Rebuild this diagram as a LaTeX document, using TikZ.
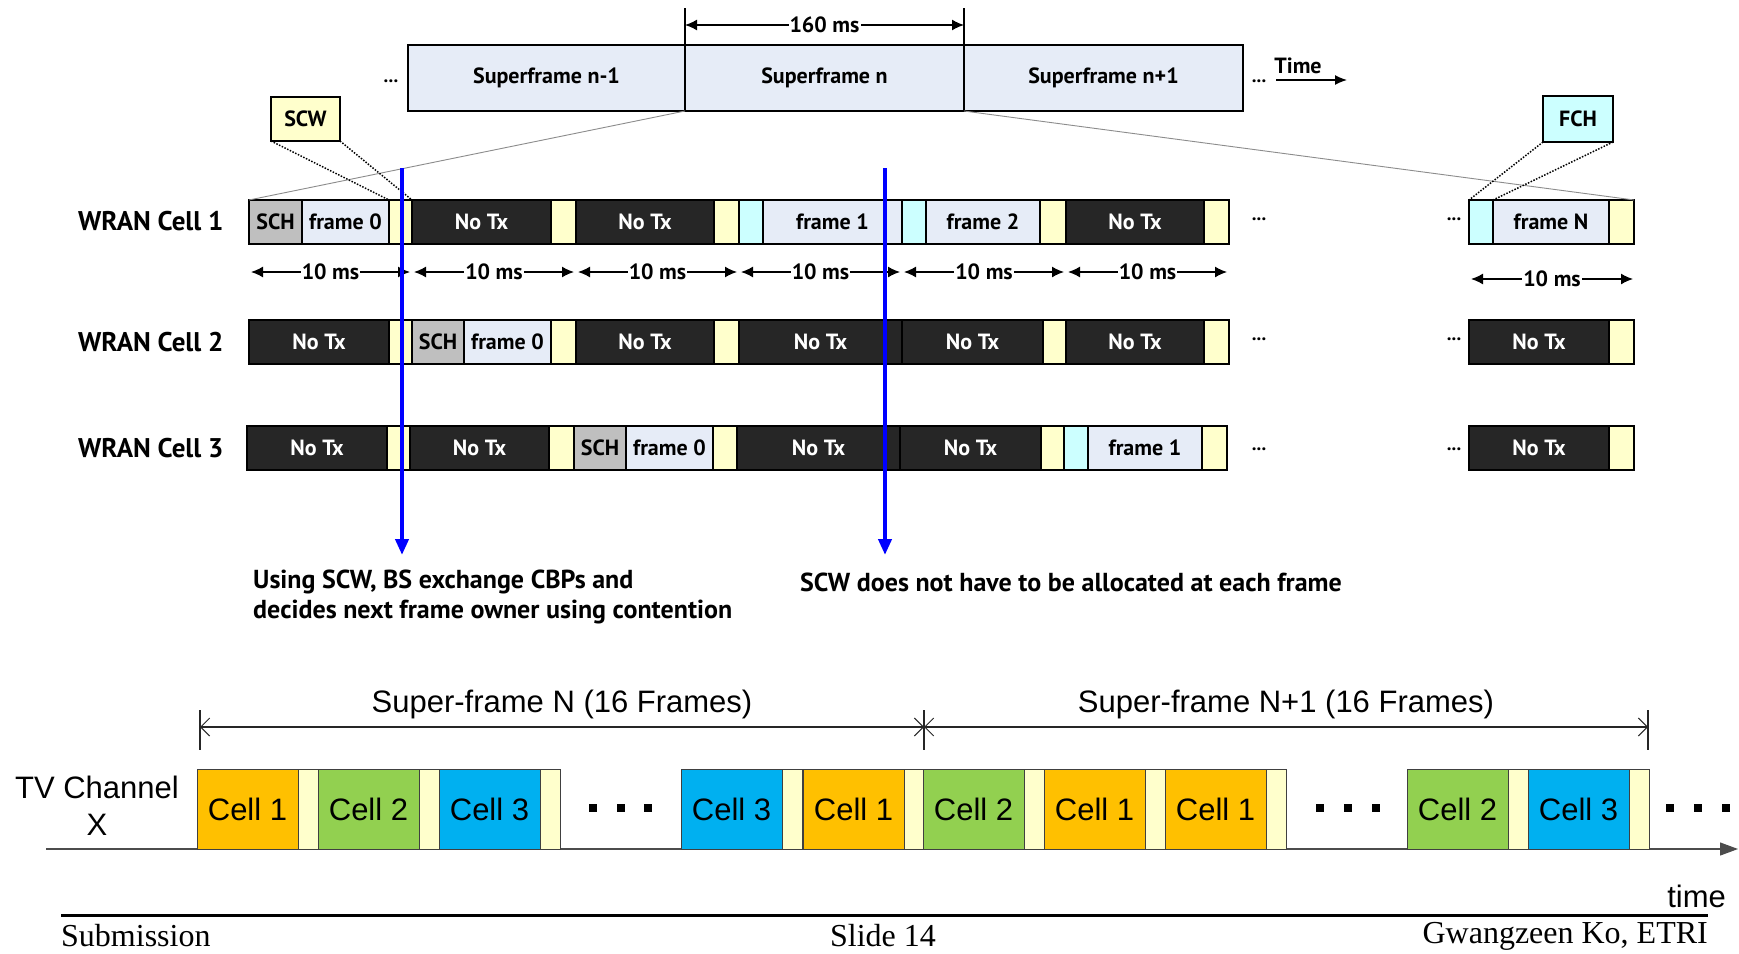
\documentclass[tikz,border=0pt]{standalone}
\usepackage{fontspec}
\setmainfont{Liberation Serif}
\newfontfamily\kf{PT Sans}
\newfontfamily\af{Liberation Sans}
\usetikzlibrary{arrows.meta}
\definecolor{frm}{HTML}{E6ECF7}
\definecolor{schc}{HTML}{BFBFBF}
\definecolor{ylw}{HTML}{FFFFCC}
\definecolor{cyn}{HTML}{CCFFFF}
\definecolor{ntx}{HTML}{262626}
\definecolor{cA}{HTML}{FFC000}
\definecolor{cB}{HTML}{92D050}
\definecolor{cC}{HTML}{00B0F0}
\newcommand\sg[7]{\node[#6,anchor=north west,minimum width={#3-#2},minimum height={#5-#4}] (#1) at (#2,#4) {#7};}
\tikzset{
 sgb/.style={draw=black,line width=1.6pt,inner sep=0pt,outer sep=0pt,font=\kf\bfseries\fontsize{22}{24}\selectfont},
 schs/.style={sgb,fill=schc},
 frms/.style={sgb,fill=frm},
 ylws/.style={sgb,fill=ylw},
 cyns/.style={sgb,fill=cyn},
 ntxs/.style={sgb,fill=ntx,text=white},
 rowbox/.style={draw=black,line width=2.6pt},
 dimarrow/.style={line width=1.4pt,{Latex[length=12pt,width=11pt]}-{Latex[length=12pt,width=11pt]}},
 msl/.style={fill=white,inner sep=1pt,font=\kf\bfseries\fontsize{22}{24}\selectfont},
 rowlbl/.style={font=\kf\bfseries\fontsize{27}{30}\selectfont,anchor=west,inner sep=0pt},
 dotlbl/.style={font=\kf\bfseries\fontsize{19}{19}\selectfont,anchor=base,inner sep=0pt},
 cmt/.style={font=\kf\bfseries\fontsize{26}{30}\selectfont,anchor=base west,inner sep=0pt},
 topbox/.style={draw=black,line width=2.5pt,inner sep=0pt,outer sep=0pt,font=\kf\bfseries\fontsize{22}{24}\selectfont},
 cellbox/.style={draw=black!75,line width=1pt,inner sep=0pt,outer sep=0pt,font=\af\fontsize{31}{31}\selectfont},
 sfdim/.style={line width=1.2pt,draw=black!85,{Straight Barb[length=9pt,width=18pt,line width=1pt]}-{Straight Barb[length=9pt,width=18pt,line width=1pt]}},
 arl/.style={font=\af\fontsize{31}{37}\selectfont,inner sep=0pt},
 foot/.style={font=\fontsize{32}{32}\selectfont,inner sep=0pt},
 blu/.style={draw={rgb,255:red,0;green,0;blue,255},line width=4pt,-{Triangle[length=16pt,width=13pt]}}
}
\begin{document}
\begin{tikzpicture}[x=1pt,y=-1pt]
\useasboundingbox[fill=white] (0,0) rectangle (1739,953);

% ---------- superframes ----------
\node[topbox,fill=frm,anchor=north west,minimum width=277,minimum height=66] (sf1) at (408,45) {Superframe n-1};
\node[topbox,fill=frm,anchor=north west,minimum width=279,minimum height=66] (sf2) at (685,45) {Superframe n};
\node[topbox,fill=frm,anchor=north west,minimum width=279,minimum height=66] (sf3) at (964,45) {Superframe n+1};
\node[dotlbl] (dl0) at (391,82) {...};
\node[dotlbl] (dr0) at (1259,82) {...};
\coordinate (tk1) at (685,8);
\coordinate (tk2) at (964,8);
\draw[line width=1.2pt] (tk1) -- (sf2.north west);
\draw[line width=1.2pt] (tk2) -- (sf3.north west);
\coordinate (ta) at (685,25);
\coordinate (tb) at (964,25);
\draw[dimarrow] (ta) -- node[msl] (l160) {160 ms} (tb);
\node[font=\kf\bfseries\fontsize{22}{24}\selectfont,inner sep=0pt] (timel) at (1298,66) {Time};
\coordinate (tm0) at (1276,80);
\coordinate (tm1) at (1347,80);
\draw[line width=1.4pt,-{Latex[length=12pt,width=10pt]}] (tm0) -- (tm1);

% ---------- row labels ----------
\node[rowlbl] (w1) at (78,221) {WRAN Cell 1};
\node[rowlbl] (w2) at (78,342) {WRAN Cell 2};
\node[rowlbl] (w3) at (78,448) {WRAN Cell 3};

% ---------- row 1 ----------
\sg{a1}{249}{302}{200}{244}{schs}{SCH}
\sg{a2}{302}{389}{200}{244}{frms}{frame 0}
\sg{a3}{389}{412}{200}{244}{ylws}{}
\sg{a4}{412}{551}{200}{244}{ntxs}{No Tx}
\sg{a5}{551}{576}{200}{244}{ylws}{}
\sg{a6}{576}{714}{200}{244}{ntxs}{No Tx}
\sg{a7}{714}{739}{200}{244}{ylws}{}
\sg{a8}{739}{763}{200}{244}{cyns}{}
\sg{a9}{763}{902}{200}{244}{frms}{frame 1}
\sg{a10}{902}{926}{200}{244}{cyns}{}
\sg{a11}{926}{1040}{200}{244}{frms}{frame 2}
\sg{a12}{1040}{1066}{200}{244}{ylws}{}
\sg{a13}{1066}{1204}{200}{244}{ntxs}{No Tx}
\sg{a14}{1204}{1229}{200}{244}{ylws}{}
\sg{aN1}{1469}{1493}{200}{244}{cyns}{}
\sg{aN2}{1493}{1609}{200}{244}{frms}{frame N}
\sg{aN3}{1609}{1634}{200}{244}{ylws}{}
\draw[rowbox] (a1.north west) rectangle (a14.south east);
\draw[rowbox] (aN1.north west) rectangle (aN3.south east);
\node[dotlbl] (d1a) at (1259,220) {...};
\node[dotlbl] (d1b) at (1454,220) {...};

% ---------- row 2 ----------
\sg{b1}{249}{389}{320}{364}{ntxs}{No Tx}
\sg{b2}{389}{412}{320}{364}{ylws}{}
\sg{b3}{412}{464}{320}{364}{schs}{SCH}
\sg{b4}{464}{551}{320}{364}{frms}{frame 0}
\sg{b5}{551}{576}{320}{364}{ylws}{}
\sg{b6}{576}{714}{320}{364}{ntxs}{No Tx}
\sg{b7}{714}{739}{320}{364}{ylws}{}
\sg{b8}{739}{902}{320}{364}{ntxs}{No Tx}
\sg{b9}{902}{1043}{320}{364}{ntxs}{No Tx}
\sg{b10}{1043}{1066}{320}{364}{ylws}{}
\sg{b11}{1066}{1204}{320}{364}{ntxs}{No Tx}
\sg{b12}{1204}{1229}{320}{364}{ylws}{}
\sg{bN1}{1469}{1609}{320}{364}{ntxs}{No Tx}
\sg{bN2}{1609}{1634}{320}{364}{ylws}{}
\draw[rowbox] (b1.north west) rectangle (b12.south east);
\draw[rowbox] (bN1.north west) rectangle (bN2.south east);
\node[dotlbl] (d2a) at (1259,340) {...};
\node[dotlbl] (d2b) at (1454,340) {...};

% ---------- row 3 ----------
\sg{c1}{247}{387}{426}{470}{ntxs}{No Tx}
\sg{c2}{387}{410}{426}{470}{ylws}{}
\sg{c3}{410}{549}{426}{470}{ntxs}{No Tx}
\sg{c4}{549}{574}{426}{470}{ylws}{}
\sg{c5}{574}{626}{426}{470}{schs}{SCH}
\sg{c6}{626}{713}{426}{470}{frms}{frame 0}
\sg{c7}{713}{737}{426}{470}{ylws}{}
\sg{c8}{737}{900}{426}{470}{ntxs}{No Tx}
\sg{c9}{900}{1041}{426}{470}{ntxs}{No Tx}
\sg{c10}{1041}{1064}{426}{470}{ylws}{}
\sg{c11}{1064}{1088}{426}{470}{cyns}{}
\sg{c12}{1088}{1202}{426}{470}{frms}{frame 1}
\sg{c13}{1202}{1227}{426}{470}{ylws}{}
\sg{cN1}{1469}{1609}{426}{470}{ntxs}{No Tx}
\sg{cN2}{1609}{1634}{426}{470}{ylws}{}
\draw[rowbox] (c1.north west) rectangle (c13.south east);
\draw[rowbox] (cN1.north west) rectangle (cN2.south east);
\node[dotlbl] (d3a) at (1259,450) {...};
\node[dotlbl] (d3b) at (1454,450) {...};

% ---------- zoom lines ----------
\draw[black!45,line width=0.9pt] (sf1.south east) -- (a1.north west);
\draw[black!45,line width=0.9pt] (sf3.south west) -- (aN3.north east);

% ---------- SCW / FCH ----------
\node[topbox,fill=ylw,anchor=north west,minimum width=69,minimum height=44] (scw) at (271,97) {SCW};
\node[topbox,fill=cyn,anchor=north west,minimum width=70,minimum height=46] (fch) at (1543,96) {FCH};
\draw[line width=1.5pt,dash pattern=on 1.5pt off 1.5pt] (scw.south west) -- (a3.north west);
\draw[line width=1.5pt,dash pattern=on 1.5pt off 1.5pt] (scw.south east) -- (a3.north east);
\draw[line width=1.5pt,dash pattern=on 1.5pt off 1.5pt] (fch.south west) -- (aN1.north west);
\draw[line width=1.5pt,dash pattern=on 1.5pt off 1.5pt] (fch.south east) -- (aN1.north east);

% ---------- 10 ms ----------
\foreach \xa/\xb [count=\i] in {251/410,414/574,578/737,741/900,904/1064,1068/1227}{
  \coordinate (ma\i) at (\xa,272);
  \coordinate (mb\i) at (\xb,272);
  \draw[dimarrow] (ma\i) -- node[msl] (ml\i) {10 ms} (mb\i);
}
\coordinate (maN) at (1471,279);
\coordinate (mbN) at (1633,279);
\draw[dimarrow] (maN) -- node[msl] (mlN) {10 ms} (mbN);

% ---------- blue arrows ----------
\coordinate (bl1t) at (402,168);
\coordinate (bl1b) at (402,555);
\coordinate (bl2t) at (885,168);
\coordinate (bl2b) at (885,555);
\draw[blu] (bl1t) -- (bl1b);
\draw[blu] (bl2t) -- (bl2b);

\node[cmt] (cm1a) at (253,588) {Using SCW, BS exchange CBPs and};
\node[cmt] (cm1b) at (253,618) {decides next frame owner using contention};
\node[cmt] (cm2) at (800,591) {SCW does not have to be allocated at each frame};

% ---------- bottom: TV channel ----------
\coordinate (ax0) at (46,849);
\coordinate (ax1) at (1738,849);
\draw[line width=1.2pt,draw=black!70,-{Triangle[length=18pt,width=13pt]}] (ax0) -- (ax1);
\foreach \x/\c/\t [count=\i] in {197/cA/1,318/cB/2,439/cC/3,681/cC/3,803/cA/1,923/cB/2,1044/cA/1,1165/cA/1,1407/cB/2,1528/cC/3}{
  \node[cellbox,fill=\c,anchor=north west,minimum width=101,minimum height=80] (cell\i) at (\x,769) {Cell \t};
  \node[cellbox,fill=ylw,anchor=north west,minimum width=20,minimum height=80] (gap\i) at (cell\i.north east) {};
}
\foreach \x [count=\i] in {593,621,648,1320,1348,1376,1670,1698,1726}{
  \node[fill=black,minimum size=8pt,inner sep=0pt] (sq\i) at (\x,808) {};
}
\node[arl,align=center] (tvc) at (97,806) {TV Channel\\X};
\node[arl,anchor=east] (tml) at (1726,896) {time};

\coordinate (d0) at (200,727);
\coordinate (d1) at (924,727);
\coordinate (d2) at (1648,727);
\draw[sfdim] (d0) -- (d1);
\draw[sfdim] (d1) -- (d2);
\foreach \x [count=\i] in {200,924,1648}{
  \coordinate (tt\i) at (\x,710);
  \coordinate (tb\i) at (\x,750);
  \draw[line width=1.2pt,draw=black!85] (tt\i) -- (tb\i);
}
\node[arl] (sfn1) at (562,704) {Super-frame N (16 Frames)};
\node[arl] (sfn2) at (1286,704) {Super-frame N+1 (16 Frames)};

% ---------- footer ----------
\coordinate (fr0) at (61,915);
\coordinate (fr1) at (1708,915);
\draw[line width=3pt] (fr0) -- (fr1);
\node[foot,anchor=west] (fsub) at (61,936) {Submission};
\node[foot] (fsl) at (883,936) {Slide 14};
\node[foot,anchor=east] (fau) at (1708,936) {Gwangzeen Ko, ETRI};
\end{tikzpicture}
\end{document}
